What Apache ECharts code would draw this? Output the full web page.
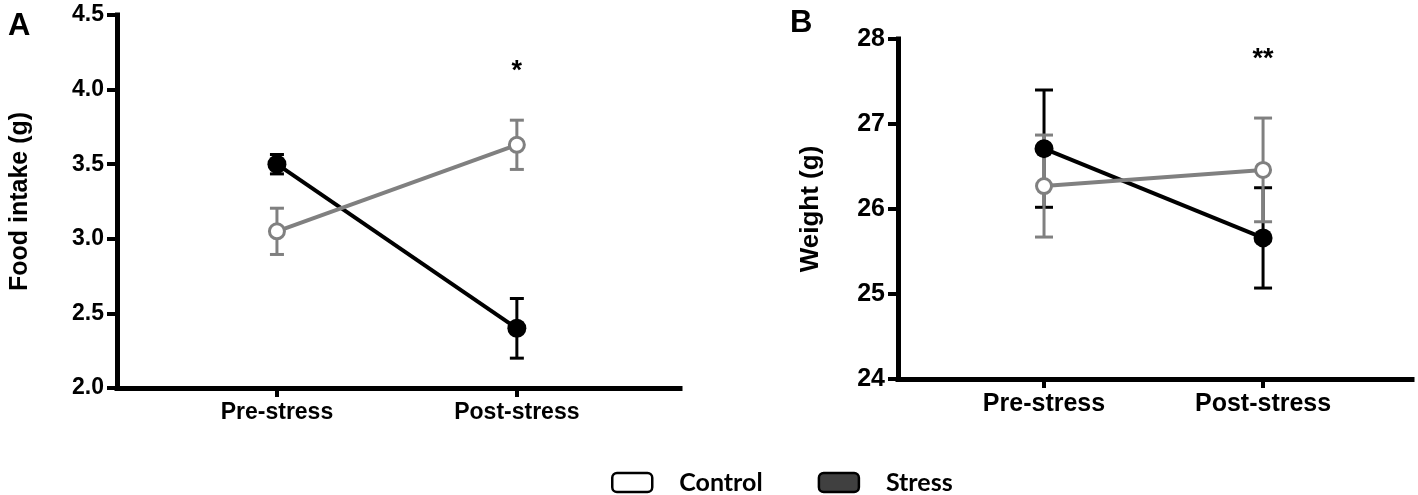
<!DOCTYPE html>
<html>
<head>
<meta charset="utf-8">
<script src="https://cdn.jsdelivr.net/npm/echarts@6/dist/echarts.min.js"></script>
<style>
  html, body { margin: 0; padding: 0; background: #fff; }
  #chart { width: 1418px; height: 495px; }
</style>
</head>
<body>
<div id="chart"></div>
<script>
// ===== Data =====
const categories = ['Pre-stress', 'Post-stress'];
const seriesNames = ['Control', 'Stress'];

// Panel A: food intake (g), mean and SEM
const foodControlMean = [3.05, 3.63];
const foodControlErr  = [0.155, 0.165];
const foodStressMean  = [3.50, 2.40];
const foodStressErr   = [0.065, 0.20];
const foodTicks = [2.0, 2.5, 3.0, 3.5, 4.0, 4.5];

// Panel B: weight (g), mean and SEM
const weightControlMean = [26.27, 26.46];
const weightControlErr  = [0.60, 0.61];
const weightStressMean  = [26.71, 25.66];
const weightStressErr   = [0.69, 0.59];
const weightTicks = [24, 25, 26, 27, 28];

// significance marks over Post-stress
const foodStar = { label: '*', y: 4.12 };
const weightStar = { label: '**', y: 27.76 };

const GREY = '#808080';
const FONT = '"Liberation Sans", Arial, sans-serif';

// ===== Helpers =====
const pts = means => means.map((v, i) => [i + 1, v]);
const errData = (means, errs) => means.map((v, i) => [i + 1, v - errs[i], v + errs[i]]);

function errorBars(name, idx, means, errs, color, cap) {
  return {
    type: 'custom', name, xAxisIndex: idx, yAxisIndex: idx,
    data: errData(means, errs), silent: true,
    renderItem(params, api) {
      const lo = api.coord([api.value(0), api.value(1)]);
      const hi = api.coord([api.value(0), api.value(2)]);
      const st = { stroke: color, lineWidth: 3 };
      return { type: 'group', children: [
        { type: 'line', shape: { x1: lo[0], y1: lo[1], x2: hi[0], y2: hi[1] }, style: st },
        { type: 'line', shape: { x1: lo[0] - cap, y1: lo[1], x2: lo[0] + cap, y2: lo[1] }, style: st },
        { type: 'line', shape: { x1: hi[0] - cap, y1: hi[1], x2: hi[0] + cap, y2: hi[1] }, style: st }
      ]};
    }
  };
}

function lineSeries(name, idx, means, hollow, star) {
  const color = hollow ? GREY : '#000';
  const s = {
    type: 'line', name, xAxisIndex: idx, yAxisIndex: idx,
    data: pts(means),
    symbol: 'circle', symbolSize: hollow ? 15 : 19,
    lineStyle: { color, width: 4 },
    itemStyle: hollow ? { color: '#fff', borderColor: GREY, borderWidth: 3 } : { color: '#000' },
    emphasis: { disabled: true }
  };
  if (star) {
    s.markPoint = {
      symbol: 'circle', symbolSize: 1, itemStyle: { color: 'transparent' },
      label: { show: true, formatter: star.label, color: '#000', fontSize: 27, fontWeight: 'bold', fontFamily: FONT, position: 'inside' },
      data: [{ coord: [2, star.y] }]
    };
  }
  return s;
}

function xAxis(idx, fontSize) {
  return {
    type: 'value', gridIndex: idx, min: 1 / 3, max: 2.68,
    axisLine: { onZero: false, lineStyle: { color: '#000', width: 5, cap: 'square' } },
    axisTick: { customValues: [1, 2], length: 9, lineStyle: { color: '#000', width: 4 } },
    axisLabel: {
      customValues: [1, 2], margin: 13, color: '#000', fontWeight: 'bold',
      fontFamily: FONT, fontSize, formatter: v => categories[Math.round(v) - 1]
    },
    splitLine: { show: false }
  };
}

function yAxis(idx, ticks, name, fontSize, nameSize, nameGap, digits) {
  return {
    type: 'value', gridIndex: idx,
    min: ticks[0], max: ticks[ticks.length - 1], interval: ticks[1] - ticks[0],
    name, nameLocation: 'middle', nameGap,
    nameTextStyle: { color: '#000', fontWeight: 'bold', fontFamily: FONT, fontSize: nameSize },
    axisLine: { show: true, onZero: false, lineStyle: { color: '#000', width: 5, cap: 'square' } },
    axisTick: { show: true, length: 10, lineStyle: { color: '#000', width: 4 } },
    axisLabel: {
      margin: 13, color: '#000', fontWeight: 'bold', fontFamily: FONT, fontSize,
      formatter: v => v.toFixed(digits)
    },
    splitLine: { show: false }
  };
}

// ===== Chart =====
const chart = echarts.init(document.getElementById('chart'));
chart.setOption({
  backgroundColor: '#fff',
  animation: false,
  grid: [
    { left: 117, right: 738, top: 15, bottom: 107 },
    { left: 898, right: 6, top: 39, bottom: 116 }
  ],
  xAxis: [xAxis(0, 23), xAxis(1, 25)],
  yAxis: [
    yAxis(0, foodTicks, 'Food intake (g)', 23, 25, 84, 1),
    yAxis(1, weightTicks, 'Weight (g)', 25, 26, 74, 0)
  ],
  legend: {
    left: 606, top: 465, itemGap: 55, itemWidth: 40, itemHeight: 19,
    selectedMode: false,
    textStyle: { color: '#000', fontFamily: 'Lato, "Open Sans", sans-serif', fontWeight: 'bold', fontSize: 25, padding: [0, 0, 0, 22] },
    data: [
      { name: seriesNames[0], icon: 'roundRect', itemStyle: { color: '#fff', borderColor: '#000', borderWidth: 2.5 } },
      { name: seriesNames[1], icon: 'roundRect', itemStyle: { color: '#404040', borderColor: '#000', borderWidth: 2.5 } }
    ]
  },
  graphic: [
    { type: 'text', left: 8, top: 11, style: { text: 'A', font: 'bold 31px ' + FONT, fill: '#000' } },
    { type: 'text', left: 790, top: 8, style: { text: 'B', font: 'bold 31px ' + FONT, fill: '#000' } }
  ],
  series: [
    errorBars(seriesNames[1], 0, foodStressMean, foodStressErr, '#000', 7),
    lineSeries(seriesNames[1], 0, foodStressMean, false, foodStar),
    errorBars(seriesNames[0], 0, foodControlMean, foodControlErr, GREY, 7),
    lineSeries(seriesNames[0], 0, foodControlMean, true, null),

    errorBars(seriesNames[1], 1, weightStressMean, weightStressErr, '#000', 9),
    lineSeries(seriesNames[1], 1, weightStressMean, false, weightStar),
    errorBars(seriesNames[0], 1, weightControlMean, weightControlErr, GREY, 9),
    lineSeries(seriesNames[0], 1, weightControlMean, true, null)
  ]
});
</script>
</body>
</html>
